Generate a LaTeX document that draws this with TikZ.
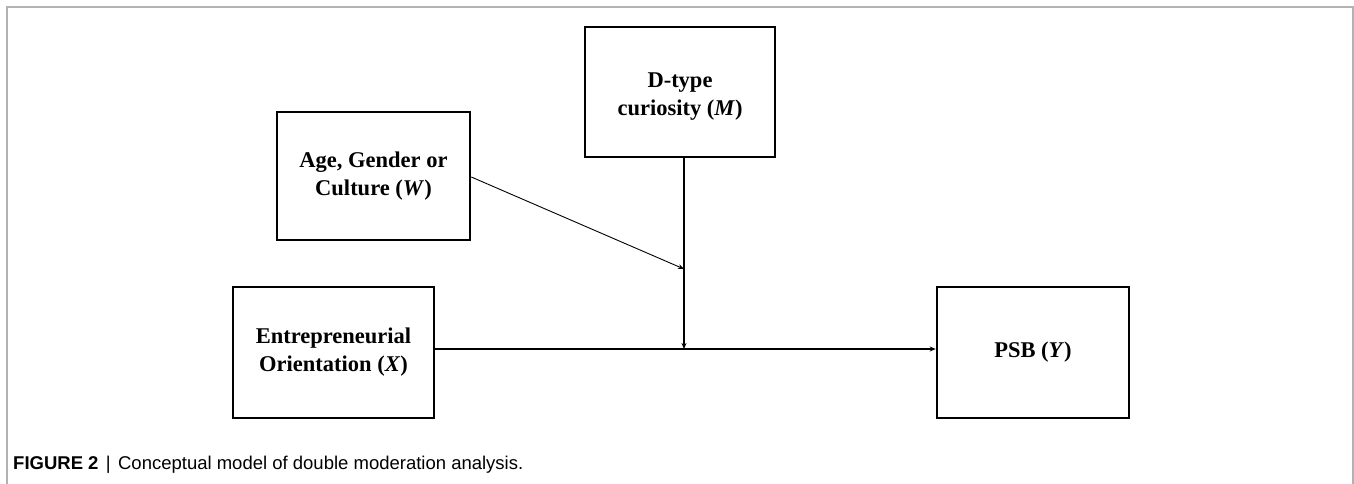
\documentclass[tikz,border=0pt]{standalone}
\usepackage{fontspec}
\setmainfont{Liberation Serif}
\newfontfamily\capfont{Liberation Sans}
\usetikzlibrary{arrows.meta}
\begin{document}
\begin{tikzpicture}[x=1pt,y=-1pt,
  varbox/.style={draw=black,line width=2.6pt,rectangle,inner sep=0pt,
    font=\fontsize{22.5}{28}\selectfont\bfseries,align=center},
  vartext/.style={inner sep=0pt,font=\fontsize{22.5}{28}\selectfont\bfseries,align=center},
  conn/.style={line width=1.8pt,-{Stealth[length=6pt,width=5pt]}},
  thinconn/.style={line width=0.9pt,-{Stealth[length=6pt,width=5pt]}}]
\useasboundingbox (0,0) rectangle (1354,484);
\draw[gray!60,line width=1.5pt] (7,484) -- (7,7) -- (1353,7) -- (1353,484);
\node[varbox,minimum width=190pt,minimum height=130pt] (M) at (680,92) {};
\node[vartext] (Mt) at (680,97) {D-type\\curiosity (\textit{M})};
\node[varbox,minimum width=193pt,minimum height=128pt] (W) at (373.5,176) {Age, Gender or\\Culture (\textit{W})};
\node[varbox,minimum width=201pt,minimum height=131pt] (X) at (333.5,352.5) {Entrepreneurial\\Orientation (\textit{X})};
\node[varbox,minimum width=192pt,minimum height=131pt] (Y) at (1033,352.5) {\raisebox{-2pt}{PSB (\textit{Y})}};
\coordinate (J) at (684,349);
\coordinate (K) at (684,269);
\draw[conn] (X.east |- J) -- (Y.west |- J);
\draw[conn] (M.south -| J) -- (J);
\draw[thinconn] (W.east |- 0,177) -- (K);
\node[anchor=base west,inner sep=0pt,font=\capfont\fontsize{18.5}{20}\selectfont] (cap) at (13,469)
  {\textbf{FIGURE 2}\hspace{0.4em}|\hspace{0.4em}Conceptual model of double moderation analysis.};
\end{tikzpicture}
\end{document}
